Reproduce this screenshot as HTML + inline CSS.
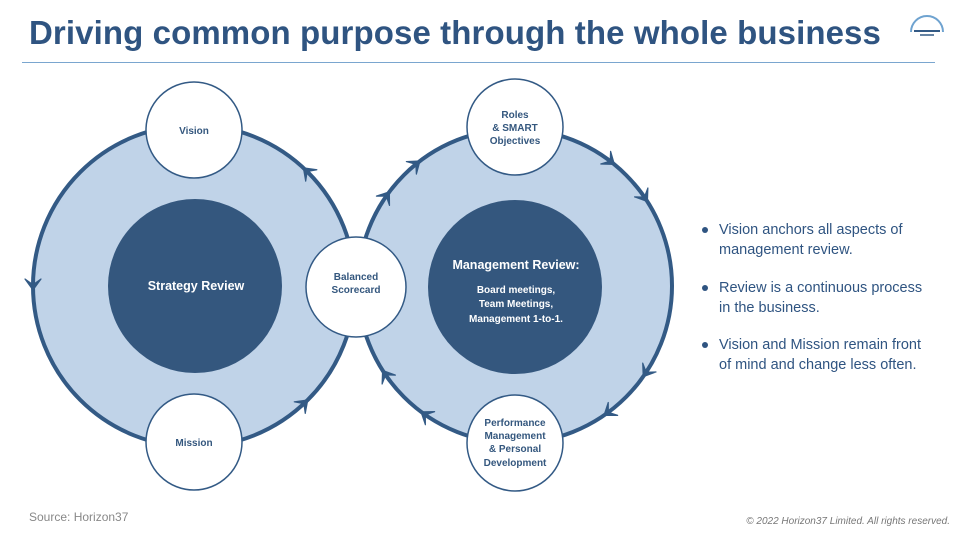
<!DOCTYPE html>
<html><head><style>
body{margin:0;background:#fff;}
.w{position:relative;width:960px;height:540px;overflow:hidden;font-family:"Liberation Sans",sans-serif;}
h1{position:absolute;left:29px;top:14px;margin:0;font-size:33px;font-weight:bold;color:#2f5481;letter-spacing:0.1px;}
.hr{position:absolute;left:22px;top:62px;width:913px;height:1px;background:#7aa6cf;}
.b{position:absolute;left:719px;font-size:14.5px;line-height:20px;color:#2f5481;}
.b:before{content:"";position:absolute;left:-17px;top:7px;width:6px;height:6px;border-radius:50%;background:#2f5481;}
</style></head><body><div class="w">
<h1>Driving common purpose through the whole business</h1>
<div class="hr"></div>
<svg width="960" height="540" style="position:absolute;left:0;top:0">
<defs><path id="ah" d="M4,0 L-7,-8 L-2,-1 L-2,1 L-7,8 Z" fill="#335a85" stroke="#335a85" stroke-width="1.2" stroke-linejoin="round"/></defs>
<path d="M911,32 A16,16 0 0 1 943,32" fill="none" stroke="#6fa3d0" stroke-width="2"/>
<line x1="914" y1="31" x2="940" y2="31" stroke="#335a85" stroke-width="2"/>
<line x1="920" y1="35" x2="934" y2="35" stroke="#335a85" stroke-width="1.5"/>
<circle cx="194" cy="286" r="161" fill="#c0d3e8" stroke="#335a85" stroke-width="4"/>
<circle cx="515" cy="286" r="157" fill="#c0d3e8" stroke="#335a85" stroke-width="4"/>
<g font-family="Liberation Sans" font-weight="bold" text-anchor="middle">
<circle cx="195" cy="286" r="87" fill="#34577e"/>
<text x="196" y="290" fill="#fff" font-size="12.5">Strategy Review</text>
<circle cx="515" cy="287" r="87" fill="#34577e"/>
<text x="516" y="269" fill="#fff" font-size="12.5">Management Review:</text>
<text fill="#fff" font-size="10"><tspan x="516" y="293">Board meetings,</tspan><tspan x="516" y="307">Team Meetings,</tspan><tspan x="516" y="322">Management 1-to-1.</tspan></text>
<g fill="#fff" stroke="#335a85" stroke-width="1.5">
<circle cx="194" cy="130" r="48"/><circle cx="194" cy="442" r="48"/>
<circle cx="356" cy="287" r="50"/><circle cx="515" cy="127" r="48"/><circle cx="515" cy="443" r="48"/>
</g>
<g fill="#34577e" font-size="10">
<text x="194" y="134">Vision</text><text x="194" y="446">Mission</text>
<text x="356" y="280">Balanced</text><text x="356" y="293">Scorecard</text>
<text x="515" y="118">Roles</text><text x="515" y="131">&amp; SMART</text><text x="515" y="144">Objectives</text>
<text x="515" y="426">Performance</text><text x="515" y="439">Management</text><text x="515" y="452">&amp; Personal</text><text x="515" y="466">Development</text>
</g></g>
<use href="#ah" transform="translate(194,286) rotate(-45.8) translate(161,0) rotate(-90)"/>
<use href="#ah" transform="translate(194,286) rotate(180) translate(161,0) rotate(-90)"/>
<use href="#ah" transform="translate(194,286) rotate(46.5) translate(161,0) rotate(-90)"/>
<use href="#ah" transform="translate(515,286) rotate(-128.7) translate(157,0) rotate(90)"/>
<use href="#ah" transform="translate(515,286) rotate(-144.6) translate(157,0) rotate(90)"/>
<use href="#ah" transform="translate(515,286) rotate(-52.2) translate(157,0) rotate(90)"/>
<use href="#ah" transform="translate(515,286) rotate(-34) translate(157,0) rotate(90)"/>
<use href="#ah" transform="translate(515,286) rotate(33.8) translate(157,0) rotate(90)"/>
<use href="#ah" transform="translate(515,286) rotate(54) translate(157,0) rotate(90)"/>
<use href="#ah" transform="translate(515,286) rotate(146) translate(157,0) rotate(90)"/>
<use href="#ah" transform="translate(515,286) rotate(125.3) translate(157,0) rotate(90)"/>
</svg>
<div class="b" style="top:220px">Vision anchors all aspects of<br>management review.</div>
<div class="b" style="top:278px">Review is a continuous process<br>in the business.</div>
<div class="b" style="top:335px">Vision and Mission remain front<br>of mind and change less often.</div>
<div style="position:absolute;left:29px;top:510px;font-size:12px;color:#888">Source: Horizon37</div>
<div style="position:absolute;right:10px;top:516px;font-size:10px;font-style:italic;color:#777">© 2022 Horizon37 Limited. All rights reserved.</div>
</div></body></html>
